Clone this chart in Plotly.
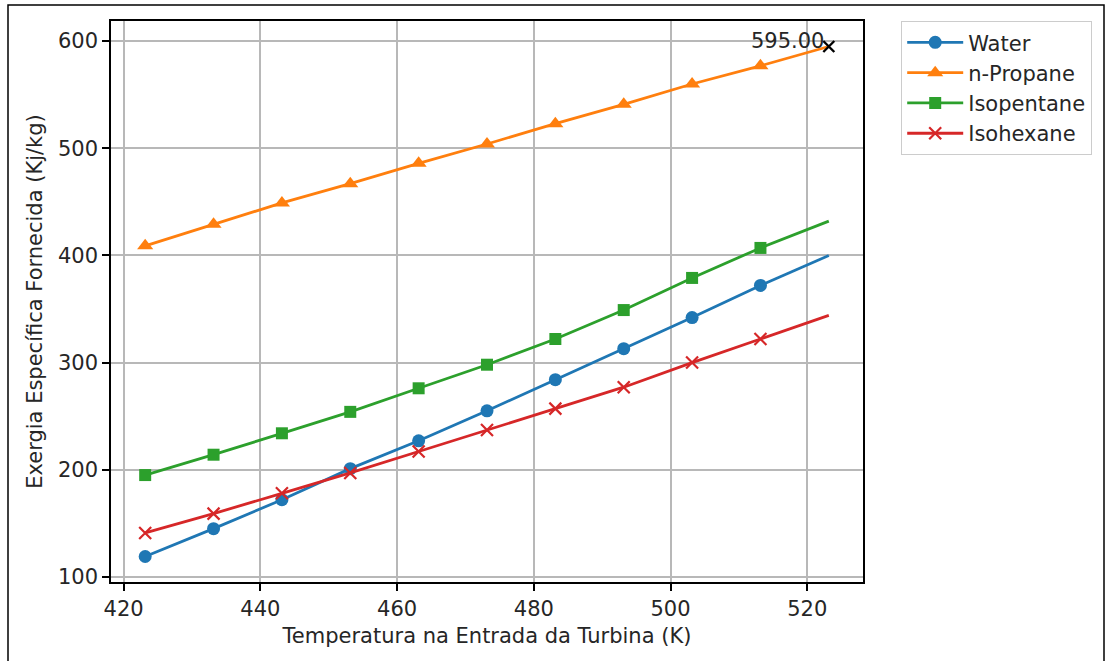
import plotly.graph_objects as go

# Turbine inlet temperature (K)
temperature = [423.15, 433.15, 443.15, 453.15, 463.15, 473.15,
               483.15, 493.15, 503.15, 513.15, 523.15]

# Specific exergy supplied (kJ/kg) per working fluid
water = [119, 145, 172, 201, 227, 255, 284, 313, 342, 372, 400]
n_propane = [409, 429, 449, 467, 486, 504, 523, 541, 560, 577, 595]
isopentane = [195, 214, 234, 254, 276, 298, 322, 349, 379, 407, 432]
isohexane = [141, 159, 178, 197, 217, 237, 257, 277, 300, 322, 344]

series_names = ["Water", "n-Propane", "Isopentane", "Isohexane"]
series_values = [water, n_propane, isopentane, isohexane]
series_colors = ["#1f77b4", "#ff7f0e", "#2ca02c", "#d62728"]
series_symbols = ["circle", "triangle-up", "square", "x-thin"]
series_sizes = [13, 14, 12, 12]

x_ticks = [420, 440, 460, 480, 500, 520]
y_ticks = [100, 200, 300, 400, 500, 600]

peak_value = max(n_propane)
peak_label = f"{peak_value:.2f}"

FONT = "DejaVu Sans"
FS = 21
TEXT = "#262626"

W, H = 1107, 661
L, R, T, B = 111, 244, 21, 79
PW, PH = W - L - R, H - T - B


def px_to_paper(px, py):
    return (px - L) / PW, (H - B - py) / PH


fig = go.Figure()

for name, vals, color, sym, size in zip(series_names, series_values,
                                        series_colors, series_symbols,
                                        series_sizes):
    marker = dict(symbol=sym, size=size, color=color)
    if sym == "x-thin":
        marker["line"] = dict(color=color, width=2.2)
    # markers on all but the final temperature
    fig.add_trace(go.Scatter(
        x=temperature[:-1], y=vals[:-1], name=name,
        mode="lines+markers",
        line=dict(color=color, width=2.8),
        marker=marker,
    ))
    fig.add_trace(go.Scatter(
        x=temperature[-2:], y=vals[-2:], mode="lines",
        line=dict(color=color, width=2.8),
        showlegend=False, hoverinfo="skip",
    ))

# highlight the maximum value
fig.add_trace(go.Scatter(
    x=[temperature[-1]], y=[peak_value], mode="markers",
    marker=dict(symbol="x-thin", size=11, color="black",
                line=dict(color="black", width=2.4)),
    showlegend=False, hoverinfo="skip",
))
fig.add_annotation(
    x=temperature[-1], y=peak_value, text=peak_label,
    showarrow=False, xanchor="right", yanchor="middle",
    xshift=-3, yshift=6,
    font=dict(family=FONT, size=FS, color=TEXT),
)

all_vals = [v for s in series_values for v in s]
y_lo, y_hi = min(all_vals), max(all_vals)
y_pad = 0.05 * (y_hi - y_lo)
x_lo, x_hi = min(temperature), max(temperature)
x_pad = 0.05 * (x_hi - x_lo)

axis_common = dict(
    showline=True, mirror=True, linecolor="black", linewidth=1.5,
    ticks="outside", ticklen=7, tickwidth=1.5, tickcolor="black",
    showgrid=True, gridcolor="#b8b8b8", gridwidth=1.5,
    zeroline=False,
    tickfont=dict(family=FONT, size=FS, color=TEXT),
)

fig.update_xaxes(
    range=[x_lo - x_pad, x_hi + x_pad], tickvals=x_ticks,
    title=dict(text="Temperatura na Entrada da Turbina (K)",
               font=dict(family=FONT, size=FS, color=TEXT), standoff=8),
    **axis_common,
)
fig.update_yaxes(
    range=[y_lo - y_pad, y_hi + y_pad], tickvals=y_ticks,
    title=dict(text="Exergia Específica Fornecida (Kj/kg)",
               font=dict(family=FONT, size=FS, color=TEXT), standoff=10),
    **axis_common,
)

# outer frame around the whole figure
x0, y0 = px_to_paper(8, 5)
x1, y1 = px_to_paper(1104, 668)
fig.add_shape(type="rect", xref="paper", yref="paper",
              x0=x0, y0=y0, x1=x1, y1=y1,
              line=dict(color="black", width=1.5), layer="above")

fig.update_layout(
    width=W, height=H,
    margin=dict(l=L, r=R, t=T, b=B, autoexpand=False),
    paper_bgcolor="white", plot_bgcolor="white",
    font=dict(family=FONT, size=FS, color=TEXT),
    legend=dict(
        x=px_to_paper(901, 0)[0], y=px_to_paper(0, 21)[1],
        xanchor="left", yanchor="top",
        bgcolor="white", bordercolor="#cccccc", borderwidth=1.2,
        font=dict(family=FONT, size=FS, color=TEXT),
        itemwidth=56,
    ),
)

fig.write_html("out.html")
